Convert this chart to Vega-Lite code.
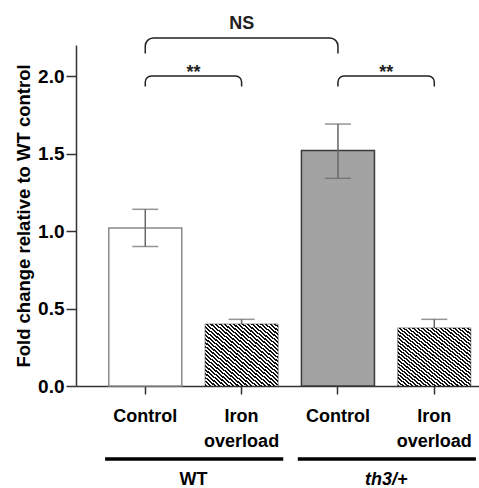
{
  "$schema": "https://vega.github.io/schema/vega-lite/v6.json",
  "width": 403,
  "height": 341,
  "autosize": {"type": "none"},
  "padding": {"left": 76, "top": 45, "right": 0, "bottom": 102},
  "background": "white",
  "config": {"view": {"stroke": null}, "font": "Liberation Sans"},
  "datasets": {
    "bars": [
      {"group": "WT", "condition": "Control", "bar": "WT Control", "mean": 1.02, "lo": 0.90, "hi": 1.14},
      {"group": "WT", "condition": "Iron overload", "bar": "WT Iron overload", "mean": 0.40, "lo": 0.37, "hi": 0.43},
      {"group": "th3/+", "condition": "Control", "bar": "th3/+ Control", "mean": 1.52, "lo": 1.34, "hi": 1.69},
      {"group": "th3/+", "condition": "Iron overload", "bar": "th3/+ Iron overload", "mean": 0.375, "lo": 0.32, "hi": 0.43}
    ],
    "brackets": [
      {"a": "WT Control", "b": "th3/+ Control", "top": 2.245, "leg": 2.135, "label": "NS"},
      {"a": "WT Control", "b": "WT Iron overload", "top": 2.0, "leg": 1.923, "label": "**"},
      {"a": "th3/+ Control", "b": "th3/+ Iron overload", "top": 2.0, "leg": 1.923, "label": "**"}
    ],
    "groups": [
      {"group": "WT", "first": "WT Control", "last": "WT Iron overload"},
      {"group": "th3/+", "first": "th3/+ Control", "last": "th3/+ Iron overload"}
    ]
  },
  "layer": [
    {
      "data": {"name": "bars"},
      "transform": [{"filter": "datum.condition == 'Control'"}],
      "mark": {"type": "bar", "strokeWidth": 1.5},
      "encoding": {
        "x": {
          "field": "bar", "type": "nominal",
          "scale": {"domain": ["WT Control", "WT Iron overload", "th3/+ Control", "th3/+ Iron overload"], "paddingInner": 0.242, "paddingOuter": 0.2125, "align": 0.8},
          "axis": {
            "title": null,
            "labelExpr": "indexof(datum.value, 'Iron') >= 0 ? ['Iron', 'overload'] : 'Control'",
            "labelAngle": 0, "labelFontSize": 18, "labelFontWeight": "bold", "labelColor": "#000",
            "labelLineHeight": 25, "labelOverlap": false, "labelPadding": 13,
            "tickSize": 8, "tickWidth": 1.5, "tickColor": "#333", "domainColor": "#333", "domainWidth": 1.5
          }
        },
        "y": {
          "field": "mean", "type": "quantitative",
          "title": "Fold change relative to WT control",
          "scale": {"domain": [0, 2.2], "nice": false},
          "axis": {
            "values": [0, 0.5, 1, 1.5, 2], "format": ".1f", "grid": false,
            "labelFontSize": 19, "labelFontWeight": "bold", "labelColor": "#000", "labelPadding": 2,
            "titleFontSize": 18.5, "titleFontWeight": "bold", "titleColor": "#000", "titlePadding": 4,
            "tickSize": 10, "tickWidth": 1.5, "tickColor": "#333", "domainColor": "#333", "domainWidth": 1.5
          }
        },
        "fill": {"field": "group", "type": "nominal", "scale": {"domain": ["WT", "th3/+"], "range": ["#ffffff", "#a3a3a3"]}, "legend": null},
        "stroke": {"field": "group", "type": "nominal", "scale": {"domain": ["WT", "th3/+"], "range": ["#8a8a8a", "#3a3a3a"]}, "legend": null}
      }
    },
    {
      "data": {"name": "bars"},
      "mark": {"type": "errorbar", "ticks": {"size": 26, "thickness": 1.5, "color": "#666"}, "rule": {"strokeWidth": 1.5, "color": "#666"}},
      "encoding": {
        "x": {"field": "bar", "type": "nominal"},
        "y": {"field": "lo", "type": "quantitative", "title": "Fold change relative to WT control"},
        "y2": {"field": "hi"}
      }
    },
    {
      "data": {"name": "bars"},
      "transform": [{"filter": "datum.condition == 'Iron overload'"}],
      "mark": {
        "type": "bar", "stroke": "#222", "strokeWidth": 0.5,
        "fill": {"gradient": "linear", "x1": 0, "y1": 1, "x2": 1, "y2": 0, "stops": [
          {"offset": 0, "color": "#111"}, {"offset": 0.0156, "color": "#111"}, {"offset": 0.0156, "color": "#fff"}, {"offset": 0.0313, "color": "#fff"},
          {"offset": 0.0313, "color": "#111"}, {"offset": 0.0469, "color": "#111"}, {"offset": 0.0469, "color": "#fff"}, {"offset": 0.0625, "color": "#fff"},
          {"offset": 0.0625, "color": "#111"}, {"offset": 0.0781, "color": "#111"}, {"offset": 0.0781, "color": "#fff"}, {"offset": 0.0938, "color": "#fff"},
          {"offset": 0.0938, "color": "#111"}, {"offset": 0.1094, "color": "#111"}, {"offset": 0.1094, "color": "#fff"}, {"offset": 0.125, "color": "#fff"},
          {"offset": 0.125, "color": "#111"}, {"offset": 0.1406, "color": "#111"}, {"offset": 0.1406, "color": "#fff"}, {"offset": 0.1563, "color": "#fff"},
          {"offset": 0.1563, "color": "#111"}, {"offset": 0.1719, "color": "#111"}, {"offset": 0.1719, "color": "#fff"}, {"offset": 0.1875, "color": "#fff"},
          {"offset": 0.1875, "color": "#111"}, {"offset": 0.2031, "color": "#111"}, {"offset": 0.2031, "color": "#fff"}, {"offset": 0.2188, "color": "#fff"},
          {"offset": 0.2188, "color": "#111"}, {"offset": 0.2344, "color": "#111"}, {"offset": 0.2344, "color": "#fff"}, {"offset": 0.25, "color": "#fff"},
          {"offset": 0.25, "color": "#111"}, {"offset": 0.2656, "color": "#111"}, {"offset": 0.2656, "color": "#fff"}, {"offset": 0.2813, "color": "#fff"},
          {"offset": 0.2813, "color": "#111"}, {"offset": 0.2969, "color": "#111"}, {"offset": 0.2969, "color": "#fff"}, {"offset": 0.3125, "color": "#fff"},
          {"offset": 0.3125, "color": "#111"}, {"offset": 0.3281, "color": "#111"}, {"offset": 0.3281, "color": "#fff"}, {"offset": 0.3438, "color": "#fff"},
          {"offset": 0.3438, "color": "#111"}, {"offset": 0.3594, "color": "#111"}, {"offset": 0.3594, "color": "#fff"}, {"offset": 0.375, "color": "#fff"},
          {"offset": 0.375, "color": "#111"}, {"offset": 0.3906, "color": "#111"}, {"offset": 0.3906, "color": "#fff"}, {"offset": 0.4063, "color": "#fff"},
          {"offset": 0.4063, "color": "#111"}, {"offset": 0.4219, "color": "#111"}, {"offset": 0.4219, "color": "#fff"}, {"offset": 0.4375, "color": "#fff"},
          {"offset": 0.4375, "color": "#111"}, {"offset": 0.4531, "color": "#111"}, {"offset": 0.4531, "color": "#fff"}, {"offset": 0.4688, "color": "#fff"},
          {"offset": 0.4688, "color": "#111"}, {"offset": 0.4844, "color": "#111"}, {"offset": 0.4844, "color": "#fff"}, {"offset": 0.5, "color": "#fff"},
          {"offset": 0.5, "color": "#111"}, {"offset": 0.5156, "color": "#111"}, {"offset": 0.5156, "color": "#fff"}, {"offset": 0.5313, "color": "#fff"},
          {"offset": 0.5313, "color": "#111"}, {"offset": 0.5469, "color": "#111"}, {"offset": 0.5469, "color": "#fff"}, {"offset": 0.5625, "color": "#fff"},
          {"offset": 0.5625, "color": "#111"}, {"offset": 0.5781, "color": "#111"}, {"offset": 0.5781, "color": "#fff"}, {"offset": 0.5938, "color": "#fff"},
          {"offset": 0.5938, "color": "#111"}, {"offset": 0.6094, "color": "#111"}, {"offset": 0.6094, "color": "#fff"}, {"offset": 0.625, "color": "#fff"},
          {"offset": 0.625, "color": "#111"}, {"offset": 0.6406, "color": "#111"}, {"offset": 0.6406, "color": "#fff"}, {"offset": 0.6563, "color": "#fff"},
          {"offset": 0.6563, "color": "#111"}, {"offset": 0.6719, "color": "#111"}, {"offset": 0.6719, "color": "#fff"}, {"offset": 0.6875, "color": "#fff"},
          {"offset": 0.6875, "color": "#111"}, {"offset": 0.7031, "color": "#111"}, {"offset": 0.7031, "color": "#fff"}, {"offset": 0.7188, "color": "#fff"},
          {"offset": 0.7188, "color": "#111"}, {"offset": 0.7344, "color": "#111"}, {"offset": 0.7344, "color": "#fff"}, {"offset": 0.75, "color": "#fff"},
          {"offset": 0.75, "color": "#111"}, {"offset": 0.7656, "color": "#111"}, {"offset": 0.7656, "color": "#fff"}, {"offset": 0.7813, "color": "#fff"},
          {"offset": 0.7813, "color": "#111"}, {"offset": 0.7969, "color": "#111"}, {"offset": 0.7969, "color": "#fff"}, {"offset": 0.8125, "color": "#fff"},
          {"offset": 0.8125, "color": "#111"}, {"offset": 0.8281, "color": "#111"}, {"offset": 0.8281, "color": "#fff"}, {"offset": 0.8438, "color": "#fff"},
          {"offset": 0.8438, "color": "#111"}, {"offset": 0.8594, "color": "#111"}, {"offset": 0.8594, "color": "#fff"}, {"offset": 0.875, "color": "#fff"},
          {"offset": 0.875, "color": "#111"}, {"offset": 0.8906, "color": "#111"}, {"offset": 0.8906, "color": "#fff"}, {"offset": 0.9063, "color": "#fff"},
          {"offset": 0.9063, "color": "#111"}, {"offset": 0.9219, "color": "#111"}, {"offset": 0.9219, "color": "#fff"}, {"offset": 0.9375, "color": "#fff"},
          {"offset": 0.9375, "color": "#111"}, {"offset": 0.9531, "color": "#111"}, {"offset": 0.9531, "color": "#fff"}, {"offset": 0.9688, "color": "#fff"},
          {"offset": 0.9688, "color": "#111"}, {"offset": 0.9844, "color": "#111"}, {"offset": 0.9844, "color": "#fff"}, {"offset": 1, "color": "#fff"}
        ]}
      },
      "encoding": {
        "x": {"field": "bar", "type": "nominal"},
        "y": {"field": "mean", "type": "quantitative", "title": "Fold change relative to WT control"}
      }
    },
    {
      "data": {"name": "brackets"},
      "mark": {"type": "bar", "fill": "#fff", "fillOpacity": 0, "stroke": "#222", "strokeWidth": 1.5, "cornerRadiusTopLeft": 8, "cornerRadiusTopRight": 8},
      "encoding": {
        "x": {"field": "a", "type": "nominal", "bandPosition": 0.5},
        "x2": {"field": "b", "bandPosition": 0.5},
        "y": {"field": "top", "type": "quantitative", "title": "Fold change relative to WT control"},
        "y2": {"field": "leg"}
      }
    },
    {
      "data": {"name": "brackets"},
      "mark": {"type": "rule", "stroke": "#fff", "strokeWidth": 3, "strokeCap": "square"},
      "encoding": {
        "x": {"field": "a", "type": "nominal", "bandPosition": 0.5},
        "x2": {"field": "b", "bandPosition": 0.5},
        "y": {"field": "leg", "type": "quantitative", "title": "Fold change relative to WT control"}
      }
    },
    {
      "data": {"name": "brackets"},
      "transform": [{"filter": "datum.label == '**'"}],
      "mark": {"type": "text", "fontSize": 18, "fontWeight": "bold", "baseline": "alphabetic", "align": "center", "dy": 2, "color": "#222"},
      "encoding": {
        "x": {"field": "a", "type": "nominal", "bandPosition": 1.16},
        "y": {"field": "top", "type": "quantitative", "title": "Fold change relative to WT control"},
        "text": {"field": "label"}
      }
    },
    {
      "data": {"name": "brackets"},
      "transform": [{"filter": "datum.label == 'NS'"}],
      "mark": {"type": "text", "fontSize": 18, "fontWeight": "bold", "baseline": "alphabetic", "align": "center", "dy": -9.5, "color": "#222"},
      "encoding": {
        "x": {"field": "a", "type": "nominal", "bandPosition": 1.82},
        "y": {"field": "top", "type": "quantitative", "title": "Fold change relative to WT control"},
        "text": {"field": "label"}
      }
    },
    {
      "data": {"name": "groups"},
      "mark": {"type": "rule", "strokeWidth": 3.5, "color": "#000"},
      "encoding": {
        "x": {"field": "first", "type": "nominal", "bandPosition": -0.05},
        "x2": {"field": "last", "bandPosition": 1.07},
        "y": {"datum": -0.471, "type": "quantitative"}
      }
    },
    {
      "data": {"name": "groups"},
      "transform": [{"filter": "datum.group == 'WT'"}],
      "mark": {"type": "text", "fontSize": 18, "fontWeight": "bold", "baseline": "middle", "align": "center", "color": "#000"},
      "encoding": {
        "x": {"field": "first", "type": "nominal", "bandPosition": 1.16},
        "y": {"datum": -0.606, "type": "quantitative"},
        "text": {"field": "group"}
      }
    },
    {
      "data": {"name": "groups"},
      "transform": [{"filter": "datum.group == 'th3/+'"}],
      "mark": {"type": "text", "fontSize": 18, "fontWeight": "bold", "fontStyle": "italic", "baseline": "middle", "align": "center", "color": "#000"},
      "encoding": {
        "x": {"field": "first", "type": "nominal", "bandPosition": 1.16},
        "y": {"datum": -0.606, "type": "quantitative"},
        "text": {"field": "group"}
      }
    }
  ]
}
